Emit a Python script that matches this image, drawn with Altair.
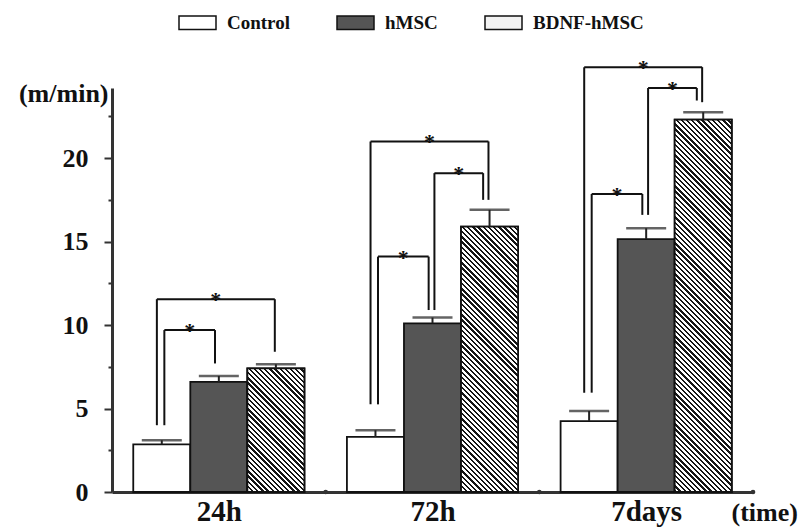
import altair as alt
import pandas as pd

# ---------------- data ----------------
groups = ["24h", "72h", "7days"]
series = ["Control", "hMSC", "BDNF-hMSC"]
control_mean = [2.85, 3.3, 4.25]
hmsc_mean = [6.6, 10.1, 15.15]
bdnf_mean = [7.4, 15.9, 22.3]
control_err = [0.25, 0.4, 0.6]
hmsc_err = [0.35, 0.35, 0.65]
bdnf_err = [0.25, 1.0, 0.45]

# significance brackets: group, from-bar, to-bar, bracket top, leg ends
br_group = ["24h", "24h", "72h", "72h", "72h", "7days", "7days", "7days"]
br_from = ["Control", "Control", "Control", "hMSC", "Control", "Control", "hMSC", "Control"]
br_to = ["hMSC", "BDNF-hMSC", "hMSC", "BDNF-hMSC", "BDNF-hMSC", "hMSC", "BDNF-hMSC", "BDNF-hMSC"]
br_top = [9.7, 11.55, 14.1, 19.1, 21.0, 17.85, 24.2, 25.45]
br_from_end = [4.0, 4.0, 5.25, 10.9, 5.25, 5.95, 16.6, 5.95]
br_to_end = [7.7, 8.4, 10.9, 17.5, 17.5, 16.6, 23.45, 23.35]

y_ticks = [0, 2.5, 5, 7.5, 10, 12.5, 15, 17.5, 20, 22.5]
group_edges = [1, 2, 3]

# ---------------- layout / style constants ----------------
W, H = 641, 404
X_MAX, Y_MAX = 3.0, 24.2
PX_X, PX_Y = W / X_MAX, H / Y_MAX
BAR_W = 0.267
FONT = "Liberation Serif, Times New Roman, serif"
LEG_OFF = {("Control", "hMSC"): (0.012, -0.018),
           ("hMSC", "BDNF-hMSC"): (0.009, -0.03),
           ("Control", "BDNF-hMSC"): (-0.023, -0.005)}

means = {"Control": control_mean, "hMSC": hmsc_mean, "BDNF-hMSC": bdnf_mean}
errs = {"Control": control_err, "hMSC": hmsc_err, "BDNF-hMSC": bdnf_err}


def center(g, s):
    return groups.index(g) + 0.5 + (series.index(s) - 1) * BAR_W


rows = []
for g in groups:
    gi = groups.index(g)
    for s in series:
        c = center(g, s)
        rows.append({"group": g, "series": s, "c": c, "x0": c - BAR_W / 2, "x1": c + BAR_W / 2,
                     "mean": means[s][gi], "top": means[s][gi] + errs[s][gi]})
bars = pd.DataFrame(rows)

seg_rows, star_rows = [], []
for g, f, t, top, fe, te in zip(br_group, br_from, br_to, br_top, br_from_end, br_to_end):
    dl, dr = LEG_OFF[(f, t)]
    xl, xr = center(g, f) + dl, center(g, t) + dr
    seg_rows += [{"x": xl, "x2": xl, "y": fe, "y2": top},
                 {"x": xl, "x2": xr, "y": top, "y2": top},
                 {"x": xr, "x2": xr, "y": top, "y2": te}]
    star_rows.append({"x": (xl + xr) / 2, "y": top})
segs = pd.DataFrame(seg_rows)
stars = pd.DataFrame(star_rows)
edges = pd.DataFrame({"x": group_edges, "y": [0] * len(group_edges)})

xs = alt.Scale(domain=[0, X_MAX], nice=False, zero=False)
ys = alt.Scale(domain=[0, Y_MAX], nice=False)

label_map = "{" + ",".join(f"'{i + 0.5}':'{g}'" for i, g in enumerate(groups)) + "}"

x_axis = alt.Axis(values=[i + 0.5 for i in range(len(groups))],
                  labelExpr=f"{label_map}[toString(datum.value)]",
                  ticks=False, tickSize=0, grid=False,
                  labelFont=FONT, labelFontSize=29, labelFontWeight="bold", labelColor="#111",
                  labelBaseline="alphabetic", labelPadding=28, labelAngle=0,
                  domainColor="#333", domainWidth=3,
                  title="(time)", titleFont=FONT, titleFontSize=26, titleFontWeight="bold",
                  titleColor="#111", titleAngle=0, titleAlign="left", titleBaseline="alphabetic",
                  titleX=619, titleY=28)
y_axis = alt.Axis(values=y_ticks,
                  labelExpr="datum.value % 5 === 0 ? datum.label : ''",
                  tickSize={"condition": {"test": "datum.value % 5 === 0", "value": 8}, "value": 4},
                  tickColor="#333", tickWidth=2, grid=False,
                  labelFont=FONT, labelFontSize=26, labelFontWeight="bold", labelColor="#111",
                  labelPadding=16,
                  domainColor="#333", domainWidth=3,
                  title="(m/min)", titleFont=FONT, titleFontSize=26, titleFontWeight="bold",
                  titleColor="#111", titleAngle=0, titleAlign="right", titleBaseline="alphabetic",
                  titleX=-4, titleY=13)

legend = alt.Legend(title=None, orient="none", legendX=66, legendY=-85, direction="horizontal",
                    symbolType="M-1,-0.36H1V0.36H-1Z", symbolSize=1369,
                    symbolStrokeColor="#111", symbolStrokeWidth=1.5, symbolOpacity=1,
                    labelFont=FONT, labelFontSize=19, labelFontWeight="bold", labelColor="#111",
                    labelOffset=10, columnPadding=44, padding=0)


def X(field):
    return alt.X(field, scale=xs, axis=x_axis)


def Y(field):
    return alt.Y(field, scale=ys, axis=y_axis)


base_bars = alt.Chart(bars).mark_bar(stroke="#111", strokeWidth=1.8).encode(
    x=X("x0:Q"), x2="x1:Q",
    y=Y("mean:Q"), y2=alt.datum(0),
    fill=alt.Fill("series:N", scale=alt.Scale(domain=series, range=["#ffffff", "#555555", "#f2f2f2"]),
                  legend=legend, sort=series),
)


def stripes(h_px, w_px, period=5.2, ink=0.45):
    r = h_px / w_px
    s = (1 + r) / (1 + r * r)
    n = max(1, round((w_px + h_px) / period))
    stops = []
    for k in range(n):
        a, b, c = k / n, (k + ink) / n, (k + 1) / n
        stops += [{"offset": a, "color": "#151515"}, {"offset": b, "color": "#151515"},
                  {"offset": b, "color": "#ffffff"}, {"offset": c, "color": "#ffffff"}]
    return {"gradient": "linear", "x1": 0, "y1": 1, "x2": s, "y2": 1 - s * r, "stops": stops}


hatch_layers = []
bd = bars[bars.series == "BDNF-hMSC"]
for _, row in bd.iterrows():
    grad = stripes(row["mean"] * PX_Y, BAR_W * PX_X)
    hatch_layers.append(
        alt.Chart(pd.DataFrame([row])).mark_bar(fill=grad, stroke="#111", strokeWidth=1.8).encode(
            x=X("x0:Q"), x2="x1:Q", y=Y("mean:Q"), y2=alt.datum(0)))

stems = alt.Chart(bars).mark_rule(color="#222", strokeWidth=2).encode(
    x=X("c:Q"), y=Y("mean:Q"), y2="top:Q")
caps = alt.Chart(bars).mark_tick(color="#222", thickness=2.5, size=40, orient="horizontal").encode(
    x=X("c:Q"), y=Y("top:Q"))

brackets = alt.Chart(segs).mark_rule(color="#111", strokeWidth=2).encode(
    x=X("x:Q"), x2="x2:Q", y=Y("y:Q"), y2="y2:Q")
star_marks = alt.Chart(stars).mark_text(text="*", font=FONT, fontSize=22, fontWeight="bold",
                                        color="#111", baseline="alphabetic", dy=8).encode(
    x=X("x:Q"), y=Y("y:Q"))
dots = alt.Chart(edges).mark_circle(color="#333", size=22, opacity=1).encode(
    x=X("x:Q"), y=Y("y:Q"))

chart = alt.layer(base_bars, *hatch_layers, stems, caps, brackets, star_marks, dots).properties(
    width=W, height=H,
    autosize=alt.AutoSizeParams(type="none"),
    padding={"left": 104, "top": 80, "right": 45, "bottom": 38},
).configure(background="white").configure_view(stroke=None)

chart.save("out.html", embed_options={"renderer": "svg", "actions": False})
